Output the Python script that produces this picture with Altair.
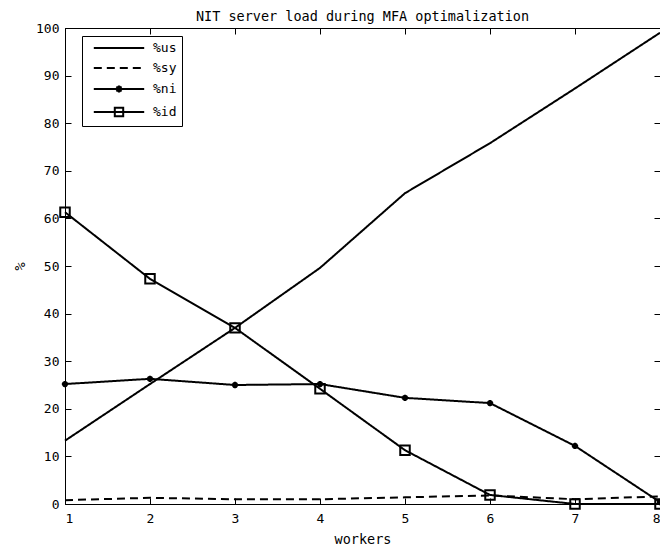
import altair as alt
import pandas as pd

workers = [1, 2, 3, 4, 5, 6, 7, 8]
series_names = ["%us", "%sy", "%ni", "%id"]
us = [13.3, 25.2, 37.0, 49.6, 65.3, 75.8, 87.3, 99.0]
sy = [0.8, 1.3, 1.0, 1.0, 1.4, 1.8, 1.0, 1.6]
ni = [25.2, 26.3, 25.0, 25.2, 22.3, 21.2, 12.2, 0.4]
idle = [61.3, 47.3, 37.0, 24.2, 11.3, 1.9, 0.0, 0.0]
x_ticks = [1, 2, 3, 4, 5, 6, 7, 8]
y_ticks = [0, 10, 20, 30, 40, 50, 60, 70, 80, 90, 100]

rows = []
for name, vals in zip(series_names, [us, sy, ni, idle]):
    for w, v in zip(workers, vals):
        rows.append({"workers": w, "value": v, "series": name})
df = pd.DataFrame(rows)

MONO = "DejaVu Sans Mono"
ASTER = "M0,-1L0,1M-1,0L1,0M-0.7,-0.7L0.7,0.7M-0.7,0.7L0.7,-0.7"

xscale = alt.Scale(domain=[1, 8], nice=False, zero=False)
yscale = alt.Scale(domain=[0, 100], nice=False)

legend_shape = (
    "datum.value === '%ni' ? 'M-4.2,0L4.2,0M0,-0.6L0,0.6M-0.6,0L0.6,0M-0.42,-0.42L0.42,0.42M-0.42,0.42L0.42,-0.42' : "
    "datum.value === '%id' ? 'M-4.2,0L4.2,0M-0.7,-0.7L0.7,-0.7L0.7,0.7L-0.7,0.7Z' : 'M-4.2,0L4.2,0'"
)

legend = alt.Legend(
    title=None,
    orient="none",
    legendX=17,
    legendY=8,
    strokeColor="black",
    fillColor="white",
    padding=5,
    symbolSize=144,
    symbolStrokeWidth=2,
    symbolStrokeColor="black",
    symbolType={"expr": legend_shape},
    symbolOffset=25,
    labelOffset=27,
    rowPadding=6,
    labelFont=MONO,
    labelFontSize=13,
    labelColor="black",
    labelExpr="datum.label + '\u00a0'",
)

base = alt.Chart(df)

lines = base.mark_line(color="black", strokeWidth=2).encode(
    x=alt.X("workers:Q", scale=xscale,
            axis=alt.Axis(values=x_ticks, format="d", title="workers", orient="bottom",
                          tickSize={"expr": "-6"}, labelPadding=14, titlePadding=7)),
    y=alt.Y("value:Q", scale=yscale,
            axis=alt.Axis(values=y_ticks, format="d", title="%", orient="left",
                          tickSize={"expr": "-6"}, labelPadding=12, titlePadding=8)),
    strokeDash=alt.StrokeDash("series:N",
                              scale=alt.Scale(domain=series_names,
                                              range=[[1, 0], [8, 5], [1, 0], [1, 0]]),
                              legend=legend),
)

ni_pts = base.transform_filter(alt.datum.series == "%ni").mark_point(
    shape=ASTER, size=40, strokeWidth=2, color="black", filled=False, opacity=1
).encode(
    x=alt.X("workers:Q", scale=xscale,
            axis=alt.Axis(values=x_ticks, orient="top", labels=False, title=None, domain=False,
                          tickSize={"expr": "-6"})),
    y=alt.Y("value:Q", scale=yscale,
            axis=alt.Axis(values=y_ticks, orient="right", labels=False, title=None, domain=False,
                          tickSize={"expr": "-6"})),
)

id_pts = base.transform_filter(alt.datum.series == "%id").mark_point(
    shape="square", size=90, strokeWidth=2, color="black", filled=False, opacity=1
).encode(
    x=alt.X("workers:Q", scale=xscale, axis=None),
    y=alt.Y("value:Q", scale=yscale, axis=None),
)

chart = (
    alt.layer(lines, ni_pts, id_pts)
    .resolve_scale(x="shared", y="shared")
    .resolve_axis(x="independent", y="independent")
    .properties(
        width=595,
        height=476,
        padding={"left": 57, "top": 20, "right": 0, "bottom": 42},
        autosize="none",
        title=alt.TitleParams("NIT server load during MFA optimalization", font=MONO,
                              fontSize=13.5, fontWeight="normal", color="black", offset=-1),
    )
    .configure_view(stroke="black", strokeWidth=1)
    .configure_axis(
        grid=False,
        domainColor="black",
        tickColor="black",
        labelColor="black",
        titleColor="black",
        labelFont=MONO,
        labelFontSize=13,
        titleFont=MONO,
        titleFontSize=13.5,
        titleFontWeight="normal",
        tickWidth=1,
    )
)

chart.save("out.html", embed_options={"renderer": "svg", "actions": False})
